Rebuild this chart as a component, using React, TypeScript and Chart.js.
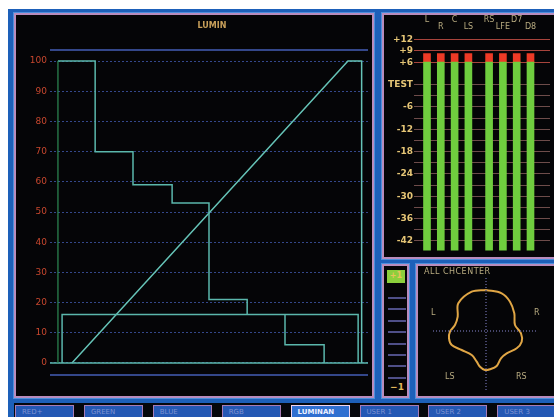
import React, { useEffect, useRef } from "react";
import { Chart, registerables } from "chart.js";
Chart.register(...registerables);

// ---------- Waveform (luminance) data: x = % of active line, y = IRE ----------
const LUMA_TICKS = [0, 10, 20, 30, 40, 50, 60, 70, 80, 90, 100];
const STAIR_X = [2.5, 14.2, 14.2, 26.1, 26.1, 38.4, 38.4, 50.0, 50.0, 62.0, 62.0];
const STAIR_Y = [100, 100, 70, 70, 59, 59, 53, 53, 21, 21, 16];
const LOW_STEP_X = [73.9, 73.9, 86.2, 86.2];
const LOW_STEP_Y = [16, 6, 6, 0];
const PEDESTAL_X = [3.8, 3.8, 96.9, 96.9];
const PEDESTAL_Y = [0, 16, 16, 0];
const RAMP_X = [6.9, 93.7, 98.0, 98.0];
const RAMP_Y = [0, 100, 100, 0];
const SYNC_X = [2.5, 2.5];
const SYNC_Y = [0, 100];
const BASE_X = [0, 100];
const BASE_Y = [0, 0];
const REF_HIGH_Y = [103.7, 103.7];
const REF_LOW_Y = [-4, -4];

// ---------- Audio meter data (dBFS relative to TEST) ----------
const CHANNELS = ["L", "R", "C", "LS", "RS", "LFE", "D7", "D8"];
const CH_POS = [0, 1, 2, 3, 4.5, 5.5, 6.5, 7.5];
const CH_PEAK = [8.3, 8.3, 8.3, 8.3, 8.3, 8.3, 8.3, 8.3];
const METER_FLOOR = -44.6;
const METER_RED_FROM = 6;
const METER_GRID = [-42, -39, -36, -33, -30, -27, -24, -21, -18, -15, -12, -9, -6, -3, 0, 6, 9, 12];
const METER_LABELED = [-42, -36, -30, -24, -18, -12, -6, 0, 6, 9, 12];

// ---------- Surround (Lissajous-like) shape ----------
const SHAPE_X = [0, -14.3, -27.7, -28.3, -31, -36, -37, -34.3, -24.3, -14.3, -9.3, -6, -1, 4, 10.7, 15, 20.7, 30.7, 35.7, 35, 29, 28.3, 24, 15.7, 0];
const SHAPE_Y = [41, 39.3, 27.7, 14.3, 6, -0.7, -7.3, -14, -19, -24, -30.7, -35.7, -39, -38.3, -35, -27.3, -22.3, -17.3, -10.7, -2.3, 6, 17.7, 29.3, 37.7, 41];
const CROSS_H_X = [-53, 52];
const CROSS_V_Y = [53, -61];

const BUTTONS = ["RED+", "GREEN", "BLUE", "RGB", "LUMINAN", "USER 1", "USER 2", "USER 3"];
const ACTIVE_BUTTON = "LUMINAN";

const pts = (xs: number[], ys: number[]) => xs.map((x, i) => ({ x, y: ys[i] }));

const line = (data: any, color: string, width = 1.5, extra: any = {}) => ({
  data,
  borderColor: color,
  backgroundColor: color,
  borderWidth: width,
  showLine: true,
  pointRadius: 0,
  fill: false,
  tension: 0,
  ...extra,
});

const MONO = "'DejaVu Sans', sans-serif";

export default function App() {
  const wfRef = useRef<HTMLCanvasElement>(null);
  const meterRef = useRef<HTMLCanvasElement>(null);
  const polarRef = useRef<HTMLCanvasElement>(null);

  useEffect(() => {
    const teal = "#5bb7ac";
    const wf = new Chart(wfRef.current!, {
      type: "scatter",
      data: {
        datasets: [
          line(pts(BASE_X, REF_HIGH_Y), "#34478a", 2),
          line(pts(BASE_X, REF_LOW_Y), "#34478a", 2),
          line(pts(SYNC_X, SYNC_Y), "#2f8d55", 1.2),
          line(pts(BASE_X, BASE_Y), teal, 1.5),
          line(pts(PEDESTAL_X, PEDESTAL_Y), teal, 1.5),
          line(pts(STAIR_X, STAIR_Y), teal, 1.5),
          line(pts(LOW_STEP_X, LOW_STEP_Y), teal, 1.5),
          line(pts(RAMP_X, RAMP_Y), "#66c4b8", 1.5),
        ],
      },
      options: {
        responsive: false,
        animation: false,
        layout: { padding: { top: 31, right: 4, bottom: 17, left: 0 } },
        plugins: { legend: { display: false }, tooltip: { enabled: false }, title: { display: false } },
        scales: {
          x: { type: "linear", min: 0, max: 100, display: false },
          y: {
            type: "linear",
            min: -5,
            max: 105,
            afterBuildTicks: (s: any) => {
              s.ticks = LUMA_TICKS.map((v) => ({ value: v }));
            },
            afterFit: (s: any) => {
              s.width = 34;
            },
            grid: { color: "#34478a", lineWidth: 1, drawTicks: false },
            border: { display: false, dash: [2, 2] },
            ticks: { color: "#c8472e", font: { family: MONO, size: 9 }, padding: 3 },
          },
        },
      } as any,
    });

    const meter = new Chart(meterRef.current!, {
      type: "bar",
      data: {
        datasets: [
          {
            data: CH_POS.map((x, i) => ({ x, y: [METER_FLOOR, Math.min(CH_PEAK[i], METER_RED_FROM)] })),
            backgroundColor: "#6fcd3e",
            barThickness: 7,
            grouped: false,
          } as any,
          {
            data: CH_POS.map((x, i) => ({ x, y: [METER_RED_FROM, CH_PEAK[i]] })),
            backgroundColor: "#ee3a26",
            barThickness: 7,
            grouped: false,
          } as any,
        ],
      },
      options: {
        responsive: false,
        animation: false,
        layout: { padding: { top: 17, right: 4, bottom: 0, left: 0 } },
        plugins: { legend: { display: false }, tooltip: { enabled: false } },
        scales: {
          x: { type: "linear", min: -0.725, max: 8.913, display: false, offset: false },
          y: {
            type: "linear",
            min: METER_FLOOR,
            max: 14.1,
            afterBuildTicks: (s: any) => {
              s.ticks = METER_GRID.map((v) => ({ value: v }));
            },
            afterFit: (s: any) => {
              s.width = 33;
            },
            grid: {
              color: (c: any) => (c.tick && c.tick.value >= 6 ? "#a8443c" : "#6e4c4a"),
              lineWidth: 1,
              drawTicks: true,
              tickLength: 3,
            },
            border: { display: false },
            ticks: {
              color: "#e6c676",
              font: { family: MONO, size: 9, weight: "bold" },
              padding: 1,
              autoSkip: false,
              callback: (v: any) => {
                const n = Number(v);
                if (!METER_LABELED.includes(n)) return "";
                if (n === 0) return "TEST";
                return n > 0 ? "+" + n : String(n);
              },
            },
          },
        },
      } as any,
      plugins: [
        {
          id: "channelLabels",
          afterDraw(chart: any) {
            const { ctx } = chart;
            const xs = chart.scales.x;
            ctx.save();
            ctx.fillStyle = "#b8ab80";
            ctx.font = `8px ${MONO}`;
            ctx.textAlign = "center";
            ctx.textBaseline = "middle";
            CHANNELS.forEach((c, i) => {
              ctx.fillText(c, xs.getPixelForValue(CH_POS[i]), i % 2 === 0 ? 5 : 12);
            });
            ctx.restore();
          },
        },
      ],
    });

    const polar = new Chart(polarRef.current!, {
      type: "scatter",
      data: {
        datasets: [
          line(pts(CROSS_H_X, [0, 0]), "#5c5c8e", 1.5, { borderDash: [1, 2] }),
          line(pts([0, 0], CROSS_V_Y), "#5c5c8e", 1.5, { borderDash: [1, 2] }),
          line(pts(SHAPE_X, SHAPE_Y), "#e0a645", 2, { tension: 0.35 }),
        ],
      },
      options: {
        responsive: false,
        animation: false,
        layout: { padding: 0 },
        plugins: { legend: { display: false }, tooltip: { enabled: false } },
        scales: {
          x: { type: "linear", min: -68, max: 66, display: false },
          y: { type: "linear", min: -65, max: 65, display: false },
        },
      } as any,
    });

    return () => {
      wf.destroy();
      meter.destroy();
      polar.destroy();
    };
  }, []);

  const abs = (l: number, t: number, w: number, h: number, extra: any = {}) => ({
    position: "absolute" as const,
    left: l,
    top: t,
    width: w,
    height: h,
    boxSizing: "border-box" as const,
    ...extra,
  });
  const panel = { background: "#050507", border: "2px solid #b98cbc", boxShadow: "0 0 0 1px #4d8fdc" };
  const txt = (color: string, size: number, extra: any = {}) => ({
    color,
    fontFamily: MONO,
    fontSize: size,
    lineHeight: 1,
    whiteSpace: "nowrap" as const,
    ...extra,
  });

  return (
    <div style={{ position: "fixed", left: 0, top: 0, width: 554, height: 417, background: "#fff", overflow: "hidden" }}>
      <div style={abs(8, 9, 546, 408, { background: "#1d60b9" })} />
      {/* bottom button strip */}
      <div style={abs(14, 403, 540, 14, { background: "#05070c" })} />
      {BUTTONS.map((b, i) => {
        const active = b === ACTIVE_BUTTON;
        return (
          <div
            key={b}
            style={abs(15 + i * 68.9, 405, 59, 14, {
              background: active ? "#2f6fd0" : "#2458b4",
              border: `1.5px solid ${active ? "#f0d4f0" : "#a77cb6"}`,
              ...txt(active ? "#eef2ff" : "#7e92d2", 7, { paddingLeft: 6, paddingTop: 3, fontWeight: active ? "bold" : "normal" }),
            })}
          >
            {b}
          </div>
        );
      })}

      {/* main waveform panel */}
      <div style={abs(14, 13, 360, 385, panel)} />
      <canvas ref={wfRef} width={356} height={380} style={abs(16, 15, 356, 380)} />
      <div style={abs(190, 22, 44, 10, txt("#c9a05a", 8, { textAlign: "center", fontWeight: "bold" }))}>LUMIN</div>

      {/* audio meter panel */}
      <div style={abs(382, 13, 176, 246, panel)} />
      <canvas ref={meterRef} width={170} height={242} style={abs(384, 15, 170, 242)} />

      {/* small level panel */}
      <div style={abs(382, 264, 27, 134, panel)} />
      <div style={abs(387, 270, 18, 13, { background: "#8ccf3c", ...txt("#e8c45a", 8, { textAlign: "center", paddingTop: 2, fontWeight: "bold" }) })}>+1</div>
      {[0, 1, 2, 3, 4, 5, 6, 7].map((i) => (
        <div key={i} style={abs(388, 297 + i * 11.4, 18, 2, { background: "#4f4f88" })} />
      ))}
      <div style={abs(388, 383, 18, 10, txt("#e0b85a", 9, { textAlign: "center", fontWeight: "bold" }))}>−1</div>

      {/* surround panel */}
      <div style={abs(416, 264, 142, 134, panel)} />
      <canvas ref={polarRef} width={134} height={130} style={abs(418, 266, 134, 130)} />
      <div style={abs(424, 268, 90, 9, txt("#b8ab80", 8, { letterSpacing: 0.5 }))}>ALL CHCENTER</div>
      <div style={abs(431, 309, 8, 9, txt("#b8ab80", 8))}>L</div>
      <div style={abs(534, 309, 8, 9, txt("#b8ab80", 8))}>R</div>
      <div style={abs(445, 373, 14, 9, txt("#b8ab80", 8))}>LS</div>
      <div style={abs(516, 373, 14, 9, txt("#b8ab80", 8))}>RS</div>
    </div>
  );
}
